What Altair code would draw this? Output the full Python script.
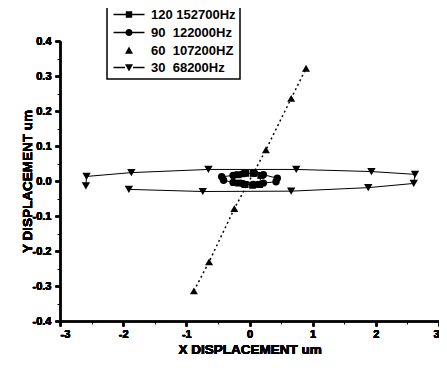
import altair as alt
import pandas as pd

labels = ["120 152700Hz", "90\u00a0 122000Hz", "60\u00a0 107200HZ", "30\u00a0 68200Hz"]

x120 = [-0.18, -0.06, 0.06, 0.18, 0.16, 0.05, -0.07, -0.17]
y120 = [0.018, 0.022, 0.022, 0.016, -0.010, -0.012, -0.010, -0.006]

x90 = [-0.44, -0.26, -0.10, 0.08, 0.22, 0.44, 0.42, 0.22, 0.06, -0.10, -0.26, -0.41]
y90 = [0.012, 0.016, 0.021, 0.022, 0.018, 0.008, -0.002, -0.006, -0.010, -0.008, -0.004, 0.002]

x60 = [-0.88, -0.64, -0.24, 0.26, 0.66, 0.895]
y60 = [-0.314, -0.231, -0.079, 0.089, 0.236, 0.322]

x30 = [-2.59, -2.58, -1.87, -0.65, 0.74, 1.93, 2.62, 2.60, 1.88, 0.66, -0.74, -1.91]
y30 = [-0.014, 0.013, 0.024, 0.033, 0.033, 0.027, 0.019, -0.007, -0.019, -0.029, -0.030, -0.024]

x_major = [-3, -2, -1, 0, 1, 2, 3]
x_minor = [-2.5, -1.5, -0.5, 0.5, 1.5, 2.5]
y_major = [-0.4, -0.3, -0.2, -0.1, 0.0, 0.1, 0.2, 0.3, 0.4]
y_minor = [-0.35, -0.25, -0.15, -0.05, 0.05, 0.15, 0.25, 0.35]

rows = []
for lab, xs, ys in zip(labels, [x120, x90, x60, x30], [y120, y90, y60, y30]):
    for i, (a, b) in enumerate(zip(xs, ys)):
        rows.append({"series": lab, "x": a, "y": b, "order": i})
df = pd.DataFrame(rows)

FONT = "Liberation Sans"
xscale = alt.Scale(domain=[-3, 3], nice=False, zero=False)
yscale = alt.Scale(domain=[-0.4, 0.4], nice=False, zero=False)

x_axis = alt.Axis(values=x_major, orient="bottom", grid=False, domainColor="black", domainWidth=1.5,
                  tickColor="black", tickWidth=1.5, tickSize=5, labelFont=FONT, labelFontSize=11,
                  labelFontWeight="bold", labelColor="black", labelPadding=2,
                  labelExpr="replace(format(datum.value, 'd'), '\u2212', '-')",
                  titleFont=FONT, titleFontSize=13.5, titleFontWeight="bold", titleColor="black",
                  titlePadding=3)
y_axis = alt.Axis(values=y_major, orient="left", grid=False, domainColor="black", domainWidth=1.5,
                  tickColor="black", tickWidth=1.5, tickSize=5, labelFont=FONT, labelFontSize=11,
                  labelFontWeight="bold", labelColor="black", labelPadding=4,
                  labelExpr="replace(format(datum.value, '.1f'), '\u2212', '-')",
                  titleFont=FONT, titleFontSize=13.5, titleFontWeight="bold", titleColor="black",
                  titlePadding=-2)

X = alt.X("x:Q", scale=xscale, axis=x_axis, title="X DISPLACEMENT um")
Y = alt.Y("y:Q", scale=yscale, axis=y_axis, title="Y DISPLACEMENT um")

base = alt.Chart(df)

layers = []
styles = {
    labels[0]: dict(shape="square", size=49, dash=None),
    labels[1]: dict(shape="circle", size=55, dash=None),
    labels[2]: dict(shape="triangle-up", size=64, dash=[2, 3]),
    labels[3]: dict(shape="triangle-down", size=70, dash=None),
}
for lab in labels:
    st = styles[lab]
    sub = base.transform_filter(alt.datum.series == lab)
    if st["dash"]:
        line = sub.mark_line(color="black", strokeWidth=1.5, strokeDash=st["dash"])
    else:
        line = sub.mark_line(color="black", strokeWidth=1)
    layers.append(line.encode(x=X, y=Y, order="order:Q"))
    layers.append(sub.mark_point(shape=st["shape"], size=st["size"], filled=True, color="black",
                                 opacity=1).encode(x=X, y=Y))

# legend glyphs (unit = 4 px): thin bar for the line, marker centred at 2.875
paths = [
    "M-1,-0.17H2.075V0.17H-1ZM3.675,-0.17H6.75V0.17H3.675ZM2.075,-0.8H3.675V0.8H2.075Z",
    "M-1,-0.17H1.975V0.17H-1ZM3.775,-0.17H6.75V0.17H3.775ZM1.975,0A0.9,0.9,0,1,1,3.775,0A0.9,0.9,0,1,1,1.975,0Z",
    "M2.875,-1L3.875,0.8L1.875,0.8Z",
    "M-1,-0.17H1.875V0.17H-1ZM3.875,-0.17H6.75V0.17H3.875ZM1.875,-0.8L3.875,-0.8L2.875,1Z",
]
legend_layer = base.transform_filter("false").mark_point(
    filled=True, color="black", opacity=1
).encode(
    x=alt.X("x:Q", scale=xscale, axis=alt.Axis(values=x_minor, orient="bottom", labels=False, domain=False,
                                               grid=False, tickSize=3, tickWidth=1, tickColor="black"),
            title=None),
    y=alt.Y("y:Q", scale=yscale, axis=alt.Axis(values=y_minor, orient="left", labels=False, domain=False,
                                               grid=False, tickSize=3, tickWidth=1, tickColor="black"),
            title=None),
    shape=alt.Shape("series:N", scale=alt.Scale(domain=labels, range=paths),
                    legend=alt.Legend(orient="none", legendX=47, legendY=-37, title=None,
                                      labelFont=FONT, labelFontSize=13, labelFontWeight="bold",
                                      labelColor="black", labelOffset=27, symbolSize=64,
                                      symbolFillColor="black", padding=4, rowPadding=3,
                                      strokeColor="black", fillColor="white")),
)

chart = alt.layer(*layers, legend_layer).resolve_scale(shape="independent").resolve_axis(
    x="independent", y="independent"
).properties(
    width=379, height=280,
    autosize=alt.AutoSizeParams(type="none"),
    padding={"left": 52, "top": 33, "right": 0, "bottom": 35},
    background="white",
).configure_view(stroke=None).configure_legend(strokeColor="black", strokeWidth=1.5, fillColor="white")

chart.save("out.html", embed_options={"renderer": "svg", "actions": False})
